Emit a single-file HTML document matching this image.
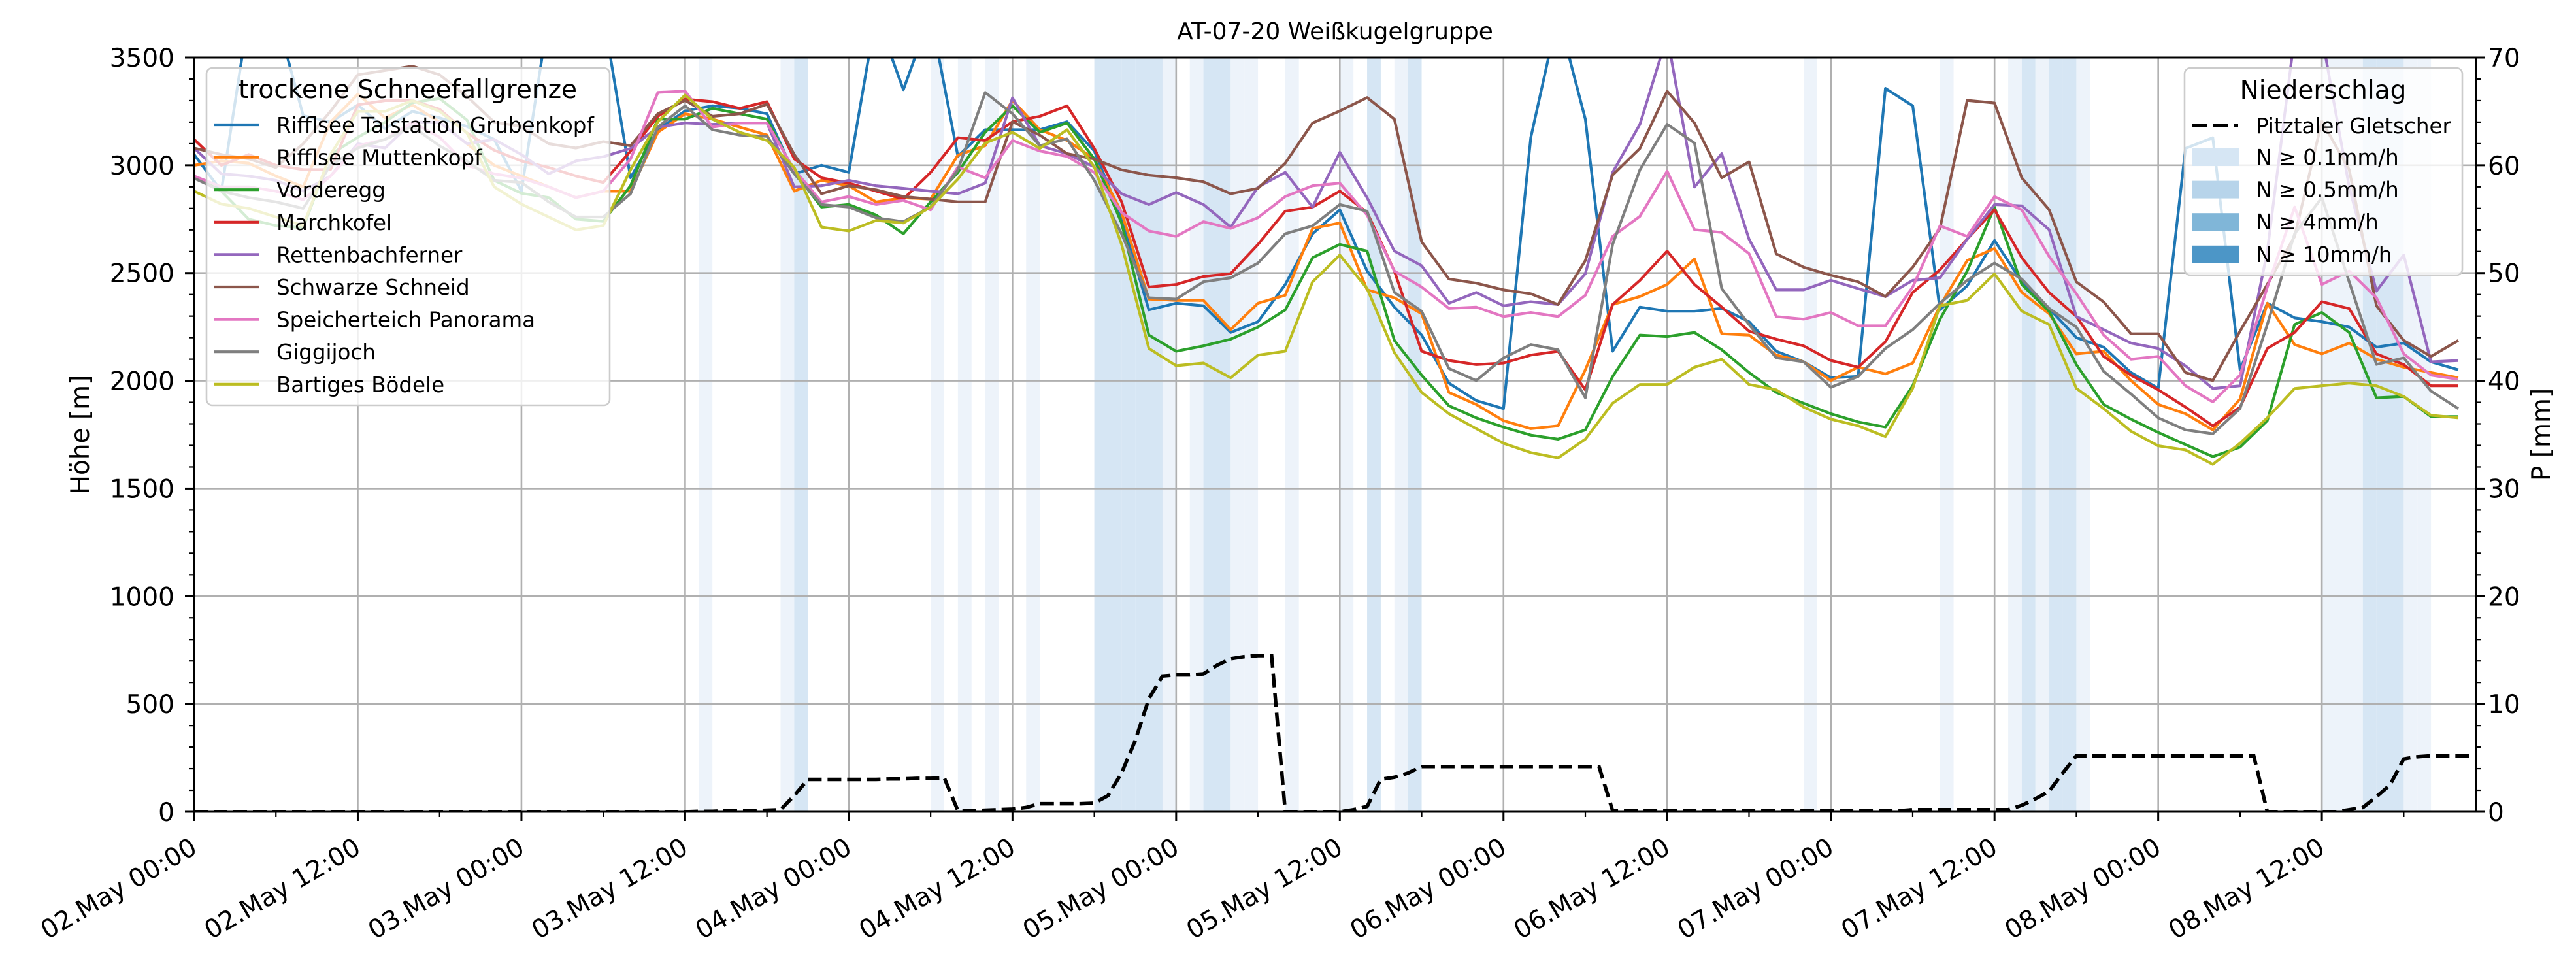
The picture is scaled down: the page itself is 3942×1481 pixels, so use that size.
<!DOCTYPE html>
<html><head><meta charset="utf-8"><title>AT-07-20 Weißkugelgruppe</title>
<style>
html,body{margin:0;padding:0;background:#fff;}
svg{display:block;font-family:"DejaVu Sans","Liberation Sans",sans-serif;}
</style></head>
<body>
<svg id="chart" xmlns="http://www.w3.org/2000/svg" width="3942" height="1481" viewBox="0 0 3942 1481"></svg>
<script>
// ---- data (hours since 02.May 00:00, 2-hour steps) ----
const seriesNames = ["Rifflsee Talstation Grubenkopf","Rifflsee Muttenkopf","Vorderegg","Marchkofel","Rettenbachferner","Schwarze Schneid","Speicherteich Panorama","Giggijoch","Bartiges Bödele"];
const seriesColors = ["#1f77b4","#ff7f0e","#2ca02c","#d62728","#9467bd","#8c564b","#e377c2","#7f7f7f","#bcbd22"];
const hours = [0,2,4,6,8,10,12,14,16,18,20,22,24,26,28,30,32,34,36,38,40,42,44,46,48,50,52,54,56,58,60,62,64,66,68,70,72,74,76,78,80,82,84,86,88,90,92,94,96,98,100,102,104,106,108,110,112,114,116,118,120,122,124,126,128,130,132,134,136,138,140,142,144,146,148,150,152,154,156,158,160,162,164,166];
const sBlue = [3050,2880,3700,3700,3230,3200,3280,3170,3250,3220,3180,3120,2880,3700,3700,3700,2942,3165,3252,3276,3264,3239,2960,3000,2967,3700,3351,3700,3041,3165,3165,3165,3202,3066,2756,2329,2360,2348,2224,2274,2447,2682,2793,2509,2342,2212,1989,1908,1871,3128,3700,3214,2137,2342,2323,2323,2336,2274,2137,2088,2014,2020,3357,3276,2330,2441,2651,2459,2336,2200,2156,2038,1965,3078,3128,2051,2360,2292,2274,2249,2156,2175,2088,2051];
const sOrange = [3000,3020,3010,2950,2900,3200,3330,3220,3280,3200,3100,3000,2950,2900,2850,2880,2880,3153,3239,3214,3177,3140,2880,2930,2905,2830,2849,2843,3047,3091,3301,3165,3115,3029,2781,2379,2373,2373,2237,2360,2397,2707,2732,2422,2385,2311,1946,1890,1815,1778,1791,2051,2354,2391,2447,2565,2218,2212,2119,2088,2001,2063,2032,2082,2348,2558,2614,2410,2311,2125,2137,2001,1890,1847,1772,1915,2360,2168,2125,2175,2100,2063,2038,2014];
const sGreen = [2950,2880,2750,2720,2710,3050,3130,3200,3290,3310,3210,2930,2870,2850,2750,2740,2905,3214,3214,3264,3239,3214,2970,2806,2818,2769,2682,2830,2967,3153,3276,3153,3196,3029,2732,2212,2137,2162,2193,2249,2329,2571,2633,2602,2187,2026,1884,1828,1785,1748,1729,1772,2020,2212,2205,2224,2144,2038,1946,1896,1847,1809,1785,1977,2286,2509,2806,2447,2323,2075,1890,1822,1760,1704,1648,1692,1815,2261,2317,2224,1921,1927,1834,1834];
const sRed = [3120,3000,3050,3000,2980,2980,3280,3300,3300,3260,3150,3070,3020,2990,2950,2920,3066,3227,3307,3295,3264,3295,3030,2942,2917,2880,2843,2967,3128,3115,3202,3227,3276,3078,2831,2435,2447,2484,2497,2633,2787,2806,2880,2781,2509,2137,2094,2075,2082,2119,2137,1958,2354,2466,2602,2447,2342,2230,2193,2162,2094,2063,2181,2410,2515,2657,2794,2571,2410,2299,2113,2026,1958,1878,1791,1877,2150,2224,2367,2335,2125,2075,1977,1977];
const sPurple = [3080,2960,2950,2930,2880,2950,3100,3080,3200,3200,3100,3120,3050,2960,3020,3040,3078,3177,3196,3190,3196,3196,2900,2905,2930,2905,2893,2880,2868,2917,3313,3091,3054,2992,2868,2818,2874,2818,2713,2899,2967,2806,3060,2849,2602,2534,2360,2410,2348,2367,2354,2497,2967,3190,3600,2899,3054,2657,2422,2422,2466,2428,2391,2466,2478,2657,2818,2812,2701,2298,2237,2175,2150,2069,1964,1977,2600,3600,3600,2900,2416,2583,2088,2094];
const sBrown = [3080,3050,3030,2990,3100,3250,3420,3440,3460,3420,3320,3200,3180,3100,3080,3110,3091,3239,3301,3227,3239,3283,3050,2868,2905,2886,2855,2843,2830,2830,3202,3140,3054,3029,2979,2954,2942,2923,2868,2893,3010,3196,3252,3314,3214,2645,2472,2453,2422,2404,2354,2558,2955,3078,3344,3196,2942,3016,2589,2527,2490,2459,2391,2527,2707,3301,3289,2942,2794,2459,2366,2218,2218,2038,2001,2230,2447,2670,3204,2980,2348,2187,2113,2187];
const sPink = [2950,2900,2900,2880,2840,2950,3090,3120,3200,3130,3000,2960,2940,2900,2850,2880,3029,3338,3344,3177,3196,3196,2980,2830,2855,2818,2837,2793,2992,2942,3115,3066,3041,2967,2781,2695,2670,2738,2707,2757,2855,2905,2917,2769,2509,2435,2336,2342,2298,2317,2298,2397,2670,2763,2973,2701,2688,2590,2298,2286,2317,2255,2255,2435,2719,2670,2855,2793,2577,2404,2212,2100,2113,1977,1902,2026,2434,2806,2447,2509,2385,2125,2026,2007];
const sGrey = [2940,2880,2850,2830,2800,3000,3080,3120,3180,3090,3020,2930,2920,2830,2760,2760,2868,3177,3276,3165,3140,3134,2960,2818,2806,2756,2738,2806,2979,3338,3239,3091,3122,2930,2682,2385,2379,2459,2478,2546,2682,2719,2818,2787,2410,2323,2057,2001,2106,2168,2144,1921,2633,2979,3190,3103,2428,2261,2106,2088,1970,2020,2150,2237,2360,2466,2546,2472,2336,2249,2044,1939,1828,1772,1754,1871,2261,2682,2850,2459,2076,2106,1952,1871];
const sYellow = [2880,2820,2800,2760,2720,3050,3250,3250,3300,3250,3150,2900,2820,2760,2700,2720,2979,3202,3326,3214,3153,3115,2990,2713,2695,2744,2732,2806,2936,3103,3153,3078,3165,2992,2633,2150,2070,2082,2014,2119,2137,2459,2583,2428,2131,1946,1847,1778,1710,1667,1642,1729,1896,1983,1983,2063,2100,1983,1958,1878,1822,1791,1741,1965,2348,2373,2496,2323,2261,1965,1871,1766,1698,1679,1612,1710,1828,1964,1977,1989,1977,1927,1840,1828];
// Pitztaler Gletscher precipitation sum [mm], hourly from h=0
const precipSum = [0,0,0,0,0,0,0,0,0,0,0,0,0,0,0,0,0,0,0,0,0,0,0,0,0,0,0,0,0,0,0,0,0,0,0,0,0,
0.05,0.05,0.1,0.1,0.1,0.15,0.2,1.5,
3.0,3.0,3.0,3.0,3.0,3.0,3.05,3.05,3.1,3.1,3.15,
0.1,0.1,0.15,0.2,0.25,0.4,0.75,0.75,0.75,0.75,
0.8,1.5,3.6,6.6,10.5,12.6,12.7,12.7,12.8,13.6,14.2,14.4,14.5,14.5,
0,0,0,0,0,0.2,0.5,3.0,3.2,3.6,4.2,
4.2,4.2,4.2,4.2,4.2,4.2,4.2,4.2,4.2,4.2,4.2,4.2,4.2,
0.1,0.1,0.1,0.1,0.1,0.1,0.1,0.1,0.1,0.1,0.1,0.1,0.1,0.1,0.1,0.1,0.1,0.1,0.1,0.1,0.1,0.1,
0.2,0.2,0.2,0.2,0.2,0.2,0.2,0.2,
0.6,1.2,1.9,3.6,5.2,
5.2,5.2,5.2,5.2,5.2,5.2,5.2,5.2,5.2,5.2,5.2,5.2,5.2,
0,0,0,0,0,0,
0.2,0.4,1.4,2.5,4.9,5.1,5.2,5.2,5.2,5.2];
// hourly precipitation rate (mm/h) bands
const precipHours = [37,43,44,54,56,58,61,66,67,68,69,70,71,73,74,75,76,77,80,84,86,88,89,118,128,133,134,135,136,137,138,156,157,158,159,160,161,162,163];
const precipRate  = [0.05,0.05,0.2,0.05,0.05,0.05,0.05,0.2,0.2,0.2,0.2,0.2,0.05,0.05,0.2,0.2,0.05,0.05,0.05,0.05,0.2,0.05,0.2,0.05,0.05,0.05,0.2,0.05,0.2,0.2,0.05,0.05,0.05,0.05,0.2,0.2,0.2,0.05,0.05];
const yTicks = [0,500,1000,1500,2000,2500,3000,3500];
const y2Ticks = [0,10,20,30,40,50,60,70];
const xTickHours = [0,12,24,36,48,60,72,84,96,108,120,132,144,156];
const xTickLabels = ["02.May 00:00","02.May 12:00","03.May 00:00","03.May 12:00","04.May 00:00","04.May 12:00","05.May 00:00","05.May 12:00","06.May 00:00","06.May 12:00","07.May 00:00","07.May 12:00","08.May 00:00","08.May 12:00"];

const allSeries = [sBlue,sOrange,sGreen,sRed,sPurple,sBrown,sPink,sGrey,sYellow];
const NS = "http://www.w3.org/2000/svg";
const svg = document.getElementById("chart");
const L = 297, R = 3789, T = 88, B = 1242, XMAX = 167.3, YMAX = 3500, Y2MAX = 70;
function xS(h){ return L + h * (R - L) / XMAX; }
function yS(v){ return B - v * (B - T) / YMAX; }
function y2S(v){ return B - v * (B - T) / Y2MAX; }
function mk(tag, attrs, parent){
  const e = document.createElementNS(NS, tag);
  for (const k in attrs) e.setAttribute(k, attrs[k]);
  (parent || svg).appendChild(e);
  return e;
}

// clip
const defs = mk("defs", {});
const cp = mk("clipPath", {id: "plotclip"}, defs);
mk("rect", {x: L, y: T, width: R - L, height: B - T}, cp);

// title
const title = mk("text", {x: (L + R) / 2, y: 60, "text-anchor": "middle", "font-size": 36, fill: "#000"});
title.textContent = "AT-07-20 Weißkugelgruppe";



// precipitation bands
const bandG = mk("g", {});


for (let i = 0; i < precipHours.length; i++) {
  const r = precipRate[i];
  const col = r >= 10 ? "#4c96c7" : r >= 4 ? "#80b6d8" : r >= 0.5 ? "#b7d4ea" : r >= 0.1 ? "#d6e6f4" : "#edf3fa";
  const b = mk("rect", {x: xS(precipHours[i]), y: T, width: xS(precipHours[i] + 1) - xS(precipHours[i]), height: B - T, fill: col}, bandG);
  
  
}

// grid
const gridG = mk("g", {stroke: "#b0b0b0", "stroke-width": 2.6});


for (const h of xTickHours) {
  const gl = mk("line", {x1: xS(h), x2: xS(h), y1: T, y2: B}, gridG);
  
  
}
for (const v of yTicks) {
  const gl = mk("line", {x1: L, x2: R, y1: yS(v), y2: yS(v)}, gridG);
  
  
}

// series lines
const linesG = mk("g", {"clip-path": "url(#plotclip)"});


for (let s = 0; s < allSeries.length; s++) {
  const d = allSeries[s].map((v, i) => (i ? "L" : "M") + xS(hours[i]).toFixed(1) + "," + yS(v).toFixed(1)).join("");
  const p = mk("path", {d: d, fill: "none", stroke: seriesColors[s], "stroke-width": 4.2, "stroke-linejoin": "round"}, linesG);
  
  
}

// legend 1
const lg1 = mk("g", {});


mk("rect", {x: 316, y: 104, width: 617, height: 516, rx: 9, fill: "#fff", "fill-opacity": 0.8, stroke: "#cccccc", "stroke-width": 2.6}, lg1);
const lt1 = mk("text", {x: 624, y: 150, "text-anchor": "middle", "font-size": 39}, lg1);
lt1.textContent = "trockene Schneefallgrenze";


for (let s = 0; s < seriesNames.length; s++) {
  const yy = 191 + s * 49.6;
  const ent = mk("g", {}, lg1);
  
  
  mk("line", {x1: 327, x2: 397, y1: yy, y2: yy, stroke: seriesColors[s], "stroke-width": 4.2}, ent);
  const t = mk("text", {x: 423, y: yy + 12, "font-size": 32.5}, ent);
  t.textContent = seriesNames[s];
}

// precipitation line (right axis)
const pd = precipSum.map((v, i) => (i ? "L" : "M") + xS(i).toFixed(1) + "," + y2S(v).toFixed(1)).join("");
const pl = mk("path", {d: pd, fill: "none", stroke: "#000", "stroke-width": 5.5, "stroke-dasharray": "21,9", "clip-path": "url(#plotclip)"});



// legend 2
const lg2 = mk("g", {});


mk("rect", {x: 3343, y: 104, width: 425, height: 317, rx: 9, fill: "#fff", "fill-opacity": 0.8, stroke: "#cccccc", "stroke-width": 2.6}, lg2);
const lt2 = mk("text", {x: 3555, y: 151, "text-anchor": "middle", "font-size": 39}, lg2);
lt2.textContent = "Niederschlag";


const e0 = mk("g", {}, lg2);


mk("line", {x1: 3355, x2: 3425, y1: 192, y2: 192, stroke: "#000", "stroke-width": 5.5, "stroke-dasharray": "23,9"}, e0);
const t0 = mk("text", {x: 3452, y: 204, "font-size": 32.5}, e0);
t0.textContent = "Pitztaler Gletscher";
const patchCols = ["#d6e6f4","#b7d4ea","#80b6d8","#4c96c7"];
const patchLabels = ["N ≥ 0.1mm/h","N ≥ 0.5mm/h","N ≥ 4mm/h","N ≥ 10mm/h"];
for (let k = 0; k < 4; k++) {
  const yy = 240 + k * 49.6;
  const ent = mk("g", {}, lg2);
  
  
  mk("rect", {x: 3355, y: yy - 13, width: 71, height: 27, fill: patchCols[k]}, ent);
  const t = mk("text", {x: 3452, y: yy + 12, "font-size": 32.5}, ent);
  t.textContent = patchLabels[k];
}

// spines
const sp = mk("rect", {x: L, y: T, width: R - L, height: B - T, fill: "none", stroke: "#000", "stroke-width": 3});



// y left ticks
const yax = mk("g", {"font-size": 39});


for (let v = 0; v <= 3500; v += 100) {
  const major = v % 500 === 0;
  mk("line", {x1: L, x2: L - (major ? 14 : 8), y1: yS(v), y2: yS(v), stroke: "#000", "stroke-width": major ? 3 : 2.2}, yax);
}
for (const v of yTicks) {
  const t = mk("text", {x: 267, y: yS(v) + 14, "text-anchor": "end"}, yax);
  t.textContent = String(v);
  
  
}
const yl = mk("text", {x: 0, y: 0, "text-anchor": "middle", "font-size": 39, transform: "translate(136,665) rotate(-90)"});
yl.textContent = "Höhe [m]";



// y right ticks
const y2ax = mk("g", {"font-size": 39});


for (let v = 0; v <= 70; v += 2) {
  const major = v % 10 === 0;
  mk("line", {x1: R, x2: R + (major ? 14 : 8), y1: y2S(v), y2: y2S(v), stroke: "#000", "stroke-width": major ? 3 : 2.2}, y2ax);
}
for (const v of y2Ticks) {
  const t = mk("text", {x: 3807, y: y2S(v) + 14, "text-anchor": "start"}, y2ax);
  t.textContent = String(v);
  
  
}
const y2l = mk("text", {x: 0, y: 0, "text-anchor": "middle", "font-size": 39, transform: "translate(3902,665) rotate(-90)"});
y2l.textContent = "P [mm]";



// x ticks
const xax = mk("g", {"font-size": 39});


for (let h = 0; h <= 167; h += 6) {
  const major = h % 12 === 0;
  mk("line", {x1: xS(h), x2: xS(h), y1: B, y2: B + (major ? 14 : 8), stroke: "#000", "stroke-width": major ? 3 : 2.2}, xax);
}
for (let i = 0; i < xTickHours.length; i++) {
  const x = xS(xTickHours[i]) + 7, y = 1304;
  const t = mk("text", {x: x, y: y, "text-anchor": "end", transform: "rotate(-30 " + x + " " + y + ")"}, xax);
  t.textContent = xTickLabels[i];
  
  
}
</script>
</body></html>
